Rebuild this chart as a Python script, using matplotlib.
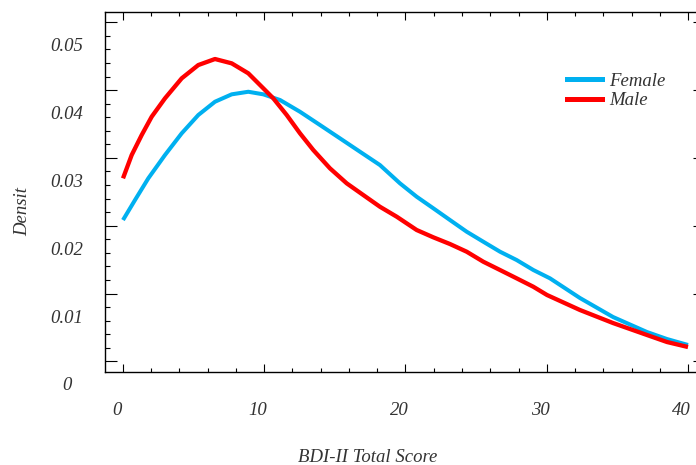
import matplotlib
matplotlib.use("Agg")
import matplotlib.pyplot as plt
from matplotlib.transforms import ScaledTranslation
from matplotlib.lines import Line2D

# ---- data ----
male_score = [0.0, 0.616, 1.324, 2.032, 2.973, 4.156, 5.331, 6.513, 7.696, 8.871, 9.933,
              10.64, 11.59, 12.53, 13.47, 14.65, 15.84, 17.01, 18.19, 19.38, 20.79,
              21.97, 23.15, 24.33, 25.51, 26.69, 27.87, 29.05, 30.02, 32.35, 34.69,
              37.10, 38.51, 40.0]
male_density = [0.02699, 0.03043, 0.03338, 0.03608, 0.03879, 0.04174, 0.04370, 0.04459,
                0.04395, 0.04248, 0.04027, 0.03879, 0.03633, 0.03363, 0.03117, 0.02847,
                0.02625, 0.02453, 0.02280, 0.02133, 0.01937, 0.01829, 0.01730, 0.01617,
                0.01469, 0.01347, 0.01224, 0.01100, 0.00978, 0.00757, 0.00565, 0.00388,
                0.00285, 0.00211]
female_score = [0.0, 0.850, 1.791, 2.973, 4.156, 5.331, 6.513, 7.696, 8.871, 9.933, 11.12,
                12.53, 13.95, 15.36, 16.78, 18.19, 19.61, 20.79, 21.97, 23.15, 24.33,
                25.51, 26.69, 27.87, 29.05, 30.23, 32.35, 34.69, 37.10, 38.51, 40.0]
female_density = [0.02084, 0.02379, 0.02699, 0.03043, 0.03363, 0.03633, 0.03829, 0.03938,
                  0.03976, 0.03938, 0.03854, 0.03681, 0.03485, 0.03289, 0.03091, 0.02895,
                  0.02625, 0.02428, 0.02257, 0.02084, 0.01912, 0.01764, 0.01617, 0.01494,
                  0.01347, 0.01224, 0.00934, 0.00654, 0.00432, 0.00329, 0.00241]

x_ticks = [0, 10, 20, 30, 40]
x_tick_labels = ["0", "10", "20", "30", "40"]
y_ticks = [0.0, 0.01, 0.02, 0.03, 0.04, 0.05]
y_tick_labels = ["0", "0.01", "0.02", "0.03", "0.04", "0.05"]
series_names = ["Female", "Male"]

# ---- style ----
FEMALE_C = "#00B0F0"
MALE_C = "#FF0000"
TXT_C = "#333333"
FONT = ["Liberation Serif", "DejaVu Serif"]
FS = 13.5

W, H = 696, 465
fig = plt.figure(figsize=(W / 100, H / 100), dpi=100)
ax = fig.add_axes([105 / W, 1 - 371.5 / H, (697 - 105) / W, (371.5 - 12.5) / H])

ax.plot(female_score, female_density, color=FEMALE_C, lw=2.9, solid_capstyle="butt",
        solid_joinstyle="round")
ax.plot(male_score, male_density, color=MALE_C, lw=3.1, solid_capstyle="butt",
        solid_joinstyle="round")

ax.set_xlim(-1.274, 40.637)
ax.set_ylim(-0.0015, 0.05145)

ax.set_xticks(x_ticks)
ax.set_xticks([v for v in range(0, 41, 2) if v % 10 != 0], minor=True)
ax.set_yticks(y_ticks)
ax.set_yticks([round(i * 0.002, 4) for i in range(0, 26) if i % 5 != 0], minor=True)
ax.set_xticklabels([])
ax.set_yticklabels([])

ax.tick_params(axis="x", which="major", direction="in", length=5.5, width=0.8,
               top=True, bottom=True, color="black")
ax.tick_params(axis="x", which="minor", direction="in", length=3.1, width=0.8,
               top=True, bottom=True, color="black")
ax.tick_params(axis="y", which="major", direction="in", length=8.4, width=0.8,
               left=True, right=False, color="black")
ax.tick_params(axis="y", which="minor", direction="in", length=3.6, width=0.8,
               left=True, right=False, color="black")
for s in ["left", "bottom", "top"]:
    ax.spines[s].set_linewidth(1.0)
    ax.spines[s].set_color("black")
ax.spines["right"].set_visible(False)

# right-side short ticks
ax2 = ax.twinx()
ax2.set_ylim(ax.get_ylim())
ax2.set_yticks(y_ticks)
ax2.set_yticklabels([])
ax2.tick_params(axis="y", which="major", direction="in", length=3, width=0.8, color="black")
for s in ax2.spines.values():
    s.set_visible(False)

# tick labels (offset as in the reference)
off_y = ScaledTranslation(-38 / 100, -24.5 / 100, fig.dpi_scale_trans)
for v, lab in zip(y_ticks, y_tick_labels):
    ax.text(0, v, lab, transform=ax.get_yaxis_transform() + off_y, ha="center", va="center",
            fontsize=FS, style="italic", family=FONT, color=TXT_C)
off_x = ScaledTranslation(-6.3 / 100, -38.5 / 100, fig.dpi_scale_trans)
for v, lab in zip(x_ticks, x_tick_labels):
    ax.text(v, 0, lab, transform=ax.get_xaxis_transform() + off_x, ha="center", va="center",
            fontsize=FS, style="italic", family=FONT, color=TXT_C)

fig.text(368 / W, 1 - 457 / H, "BDI-II Total Score", ha="center", va="center",
         fontsize=FS, style="italic", family=FONT, color=TXT_C)
fig.text(22.5 / W, 1 - 211 / H, "Densit", ha="center", va="center", rotation=90,
         fontsize=FS, style="italic", family=FONT, color=TXT_C)

handles = [Line2D([], [], color=FEMALE_C, lw=3.6), Line2D([], [], color=MALE_C, lw=3.6)]
leg = fig.legend(handles, series_names, loc="center left",
                 bbox_to_anchor=(567 / W, 1 - 91 / H), frameon=False,
                 prop={"family": FONT, "style": "italic", "size": FS},
                 handlelength=1.85, handletextpad=0.4, labelspacing=0.12, borderpad=0,
                 borderaxespad=0)
for t in leg.get_texts():
    t.set_color(TXT_C)

fig.savefig("out.png", dpi=100)
